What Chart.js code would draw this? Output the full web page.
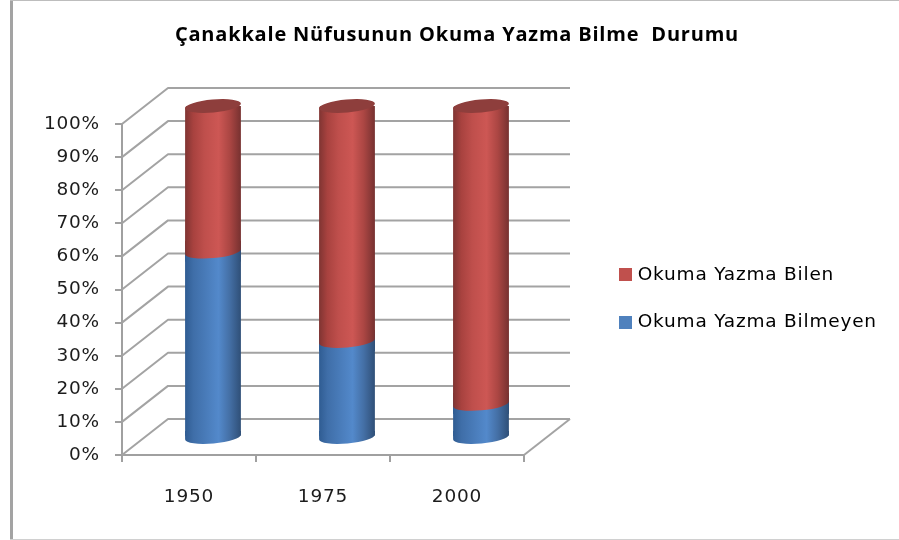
<!DOCTYPE html>
<html><head><meta charset="utf-8">
<style>
html,body{margin:0;padding:0;background:#fff;width:899px;height:540px;overflow:hidden}
#wrap{position:relative;width:899px;height:540px}
.f{position:absolute}
canvas{position:absolute;left:0;top:0;filter:blur(0.45px)}
</style>
<script src="https://cdn.jsdelivr.net/npm/chart.js@4"></script>
</head><body>
<div id="wrap">
<div class="f" style="left:10px;top:0;width:3px;height:540px;background:#a3a3a3"></div>
<div class="f" style="left:10px;top:0;width:889px;height:1px;background:#bdbdbd"></div>
<div class="f" style="left:10px;top:539px;width:889px;height:1px;background:#d0d0d0"></div>
<canvas id="c" width="899" height="540"></canvas>
</div>
<script>
const titleText = 'Çanakkale Nüfusunun Okuma Yazma Bilme  Durumu';
const categories = ['1950', '1975', '2000'];
const notLiterate = [56, 29, 10];
const literate = [44, 71, 90];
const nameLiterate = 'Okuma Yazma Bilen';
const nameNotLiterate = 'Okuma Yazma Bilmeyen';
const blueFlat = '#4f81bd', redFlat = '#c0504d';
const blueStops = [[0,'#2f5c92'],[0.15,'#3f6ea8'],[0.6,'#5389cb'],[0.8,'#446fa5'],[1,'#2f4f77']];
const redStops = [[0,'#7f3432'],[0.15,'#a8423f'],[0.35,'#bf4f4c'],[0.6,'#cd5754'],[0.8,'#ab4643'],[1,'#763130']];
const depthX = 46, depthY = -36, barPct = 56/134;
const font = '"DejaVu Sans", sans-serif', titleFont = '"Open Sans", sans-serif';
const shiftX = 24, shiftY = -18, spacing = '0.8px';
const RY = 6.5, ROT = -Math.atan(5/56);

function grad(chart, i, stops){
  const xs = chart.scales.x, hw = xs.width/categories.length*barPct/2, c = xs.getPixelForValue(i);
  const g = chart.ctx.createLinearGradient(c-hw,0,c+hw,0);
  stops.forEach(s=>g.addColorStop(s[0],s[1]));
  return g;
}
function fillFor(stops, flat){
  return c => (c.chart.chartArea && c.dataIndex!==undefined) ? grad(c.chart,c.dataIndex,stops) : flat;
}
function halfW(chart){return chart.scales.x.width/categories.length*barPct/2;}

function swatch(col){
  const s=document.createElement('canvas');s.width=13;s.height=13;
  const x=s.getContext('2d');x.fillStyle=col;x.fillRect(0,0,13,13);return s;
}

const cyl = {
  id:'cyl',
  beforeLayout(chart){chart.ctx.letterSpacing=spacing;},
  afterLayout(chart){
    chart.titleBlock.left=0; chart.titleBlock.right=914;
    const l=chart.legend, p=l.options.labels.padding;
    l.left=622.5-p; l.top=265.5-p; l.right=l.left+l.width; l.bottom=l.top+l.height;
  },
  beforeDraw(chart){chart.ctx.letterSpacing=spacing;},
  beforeDatasetsDraw(chart){
    const {ctx,scales:{x,y}}=chart;
    ctx.save();ctx.strokeStyle='#a3a3a3';ctx.lineWidth=2;ctx.lineJoin='round';
    y.ticks.forEach(t=>{
      const py=y.getPixelForValue(t.value);
      ctx.beginPath();ctx.moveTo(x.left,py);ctx.lineTo(x.left+depthX,py+depthY);ctx.lineTo(x.right+depthX,py+depthY);
      ctx.stroke();
    });
    const p0=y.getPixelForValue(0);
    ctx.beginPath();ctx.moveTo(x.right,p0);ctx.lineTo(x.right+depthX,p0+depthY);ctx.stroke();
    ctx.restore();
  },
  beforeDatasetDraw(chart,args){
    const {ctx,scales:{x,y}}=chart, hw=halfW(chart);
    ctx.save();ctx.translate(shiftX,shiftY);
    ctx.beginPath();
    categories.forEach((_,i)=>{
      const cx=x.getPixelForValue(i);
      if(args.index===0){
        const p=y.getPixelForValue(0);
        ctx.moveTo(cx+hw*Math.cos(ROT),p+hw*Math.sin(ROT));
        ctx.ellipse(cx,p,hw,RY,ROT,0,Math.PI);
        ctx.lineTo(cx-hw,p-400);ctx.lineTo(cx+hw,p-400);ctx.closePath();
      }else{
        const p=y.getPixelForValue(100);
        ctx.moveTo(cx-hw*Math.cos(ROT),p-hw*Math.sin(ROT));
        ctx.ellipse(cx,p,hw,RY,ROT,Math.PI,Math.PI*2);
        ctx.lineTo(cx+hw,p+400);ctx.lineTo(cx-hw,p+400);ctx.closePath();
      }
    });
    ctx.clip();
  },
  afterDatasetDraw(chart){chart.ctx.restore();},
  afterDatasetsDraw(chart){
    const {ctx,scales:{x,y}}=chart, hw=halfW(chart);
    ctx.save();ctx.translate(shiftX,shiftY);
    categories.forEach((_,i)=>{
      const cx=x.getPixelForValue(i), p=y.getPixelForValue(notLiterate[i]);
      const p0=y.getPixelForValue(0), pt=y.getPixelForValue(notLiterate[i]+literate[i]);
      // bottom rim of the cylinder, closed upward so the tilted chord leaves no gap
      ctx.fillStyle=grad(chart,i,blueStops);
      ctx.beginPath();ctx.ellipse(cx,p0,hw,RY,ROT,0,Math.PI);
      ctx.lineTo(cx-hw,p0-6);ctx.lineTo(cx+hw,p0-6);ctx.closePath();ctx.fill();
      // red / blue seam
      ctx.save();
      ctx.beginPath();ctx.rect(cx-hw,p-12,hw*2,24);ctx.clip();
      ctx.fillStyle=grad(chart,i,blueStops);ctx.fillRect(cx-hw,p-10,hw*2,20);
      ctx.fillStyle=grad(chart,i,redStops);
      ctx.beginPath();ctx.ellipse(cx,p,hw,RY,ROT,0,Math.PI);
      ctx.lineTo(cx-hw,p-11);ctx.lineTo(cx+hw,p-11);ctx.closePath();ctx.fill();
      ctx.restore();
      // top cap
      ctx.fillStyle='#8e3e3c';
      ctx.beginPath();ctx.ellipse(cx,pt,hw,RY,ROT,0,Math.PI*2);ctx.fill();
    });
    ctx.restore();
  }
};

new Chart(document.getElementById('c'),{
  type:'bar',
  data:{labels:categories,datasets:[
    {label:nameNotLiterate,data:notLiterate,backgroundColor:fillFor(blueStops,blueFlat),clip:false,borderWidth:0,inflateAmount:0,barPercentage:barPct,categoryPercentage:1},
    {label:nameLiterate,data:literate,backgroundColor:fillFor(redStops,redFlat),clip:false,borderWidth:0,inflateAmount:0,barPercentage:barPct,categoryPercentage:1}
  ]},
  plugins:[cyl],
  options:{
    responsive:false,animation:false,devicePixelRatio:1,
    layout:{padding:{left:0,right:375,top:0,bottom:0}},
    scales:{
      x:{stacked:true,
        afterFit(s){s.height=85;},
        border:{color:'#a0a0a0',width:2},
        grid:{drawOnChartArea:false,drawTicks:true,tickLength:7,color:'#a0a0a0',lineWidth:2,offset:true},
        ticks:{padding:24,color:'#1c1c1c',font:{family:font,size:18.5},maxRotation:0}},
      y:{stacked:true,min:0,max:100,
        afterFit(s){s.width=122;},
        border:{color:'#a0a0a0',width:2},
        grid:{drawOnChartArea:false,drawTicks:true,tickLength:7,color:'#a0a0a0',lineWidth:2},
        ticks:{stepSize:10,padding:15,color:'#1c1c1c',font:{family:font,size:18.5},callback:v=>v+'%'}}
    },
    plugins:{
      tooltip:{enabled:false},
      title:{display:true,text:titleText,color:'#000',font:{family:titleFont,size:20,weight:'bold',lineHeight:1.2},padding:{top:23,bottom:77}},
      legend:{position:'chartArea',align:'start',
        labels:{usePointStyle:true,pointStyleWidth:6,boxHeight:13,padding:29,color:'#1c1c1c',font:{family:font,size:18.5},
          generateLabels:()=>[
            {text:nameLiterate,fillStyle:redFlat,strokeStyle:redFlat,lineWidth:0,pointStyle:swatch(redFlat),datasetIndex:1},
            {text:nameNotLiterate,fillStyle:blueFlat,strokeStyle:blueFlat,lineWidth:0,pointStyle:swatch(blueFlat),datasetIndex:0}
          ]}}
    }
  }
});
</script>
</body></html>
